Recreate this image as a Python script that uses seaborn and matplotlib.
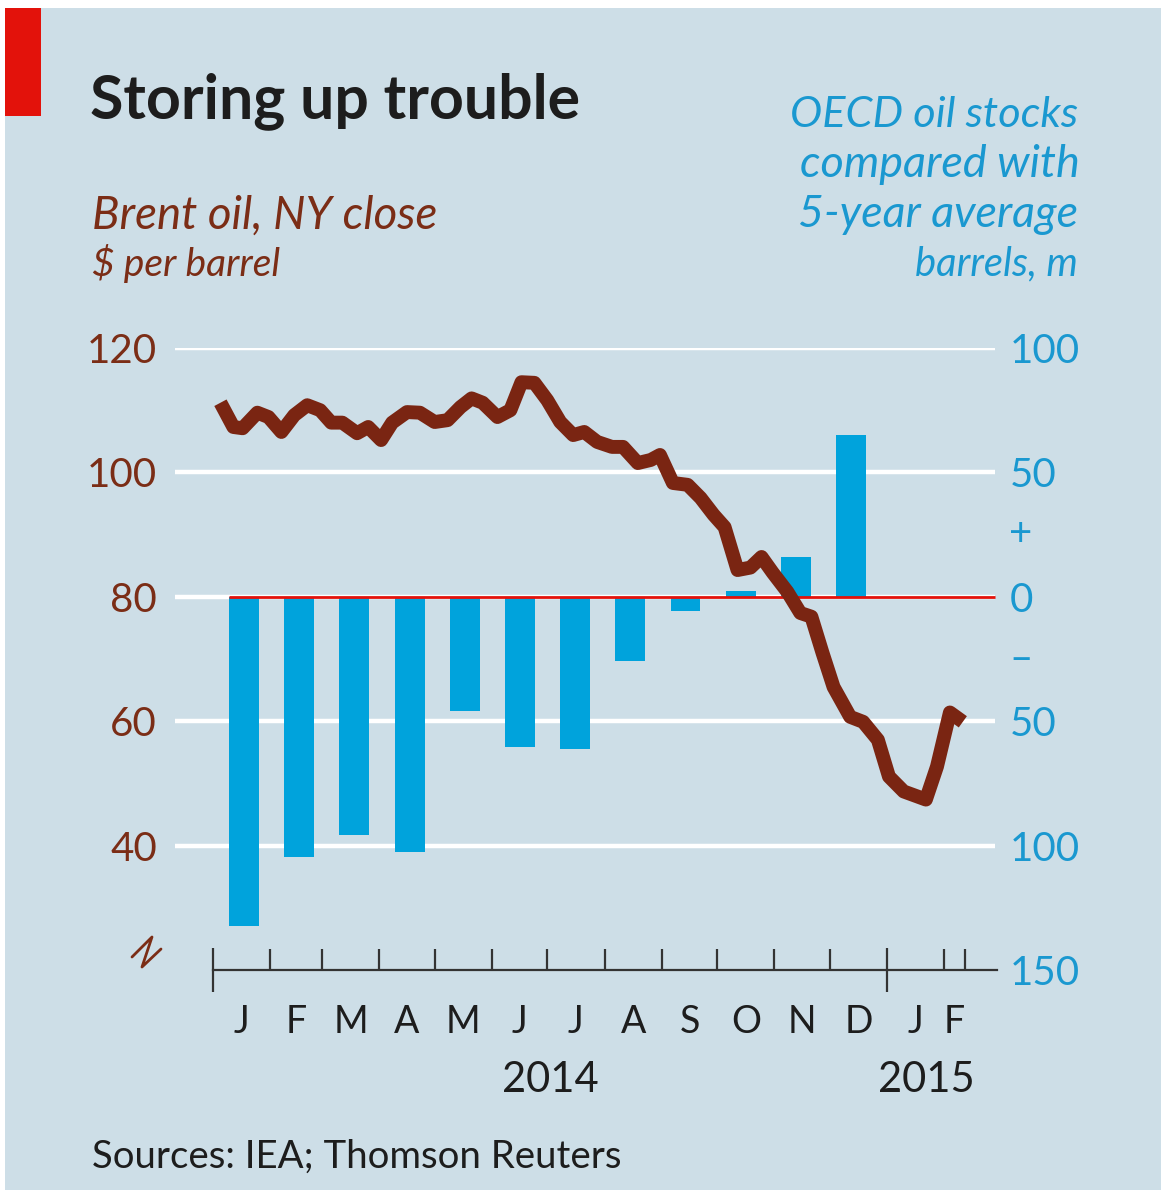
import numpy as np
import pandas as pd
import matplotlib
matplotlib.use("Agg")
import matplotlib.pyplot as plt
from matplotlib.patches import Rectangle
from matplotlib.lines import Line2D
from matplotlib.transforms import blended_transform_factory as btf
from matplotlib.ticker import FixedLocator, FuncFormatter
import seaborn as sns

# ---------------- data ----------------
# Brent weekly close, x = days since 1 Jan 2014
brent_day = [4, 11, 16, 24, 30, 37, 44, 51, 58, 64,
             70, 78, 84, 91, 97, 105, 112, 120, 127, 134,
             140, 146, 154, 161, 167, 174, 181, 188, 195, 201,
             208, 216, 222, 230, 237, 242, 249, 257, 264, 271,
             277, 284, 291, 297, 303, 311, 318, 324, 330, 336,
             345, 352, 360, 366, 374, 386, 392, 399, 406]
brent_price = [111.2, 107.3, 107.1, 109.6, 108.9, 106.5, 109.2, 110.8, 110.0, 108.0,
               108.0, 106.3, 107.3, 105.2, 108.0, 109.7, 109.6, 108.1, 108.4, 110.5,
               111.9, 111.2, 108.9, 110.0, 114.5, 114.4, 111.6, 108.1, 106.0, 106.5,
               104.9, 104.1, 104.1, 101.5, 102.0, 102.8, 98.3, 98.0, 95.9, 93.2,
               91.2, 84.3, 84.7, 86.4, 83.9, 80.8, 77.4, 76.8, 71.0, 65.5,
               60.7, 59.9, 57.0, 51.1, 48.7, 47.4, 52.7, 61.4, 59.9]

# OECD stocks vs 5-year average, barrels m, monthly 2014
stock_month = ["Jan", "Feb", "Mar", "Apr", "May", "Jun",
               "Jul", "Aug", "Sep", "Oct", "Nov", "Dec"]
stock_diff = [-132.5, -104.4, -95.6, -102.4, -45.8, -60.2,
              -61.0, -25.7, -5.6, 2.4, 16.1, 65.1]

month_letters = ["J", "F", "M", "A", "M", "J", "J", "A", "S", "O", "N", "D", "J", "F"]
month_start_day = [0, 31, 59, 90, 120, 151, 181, 212, 243, 273, 304, 334, 365, 396]
data_end_day = 407
year_labels = ["2014", "2015"]
year_start_day = [0, 365]

left_ticks = [40, 60, 80, 100, 120]
right_ticks = [-150, -100, -50, 0, 50, 100]

# ---------------- style ----------------
BG = "#cddee7"
RED = "#e3120b"
BAR = "#00a3dc"
LINE = "#7a2512"
BROWN = "#7b2d16"
BLUE = "#1a98d0"
DARK = "#1d1d1d"

sns.set_theme(style="white")
plt.rcParams["font.family"] = ["Lato", "DejaVu Sans"]

W, H = 1161, 1197
fig = plt.figure(figsize=(W / 100, H / 100), dpi=100)
fig.patch.set_facecolor("white")

def fx(px):
    return px / W

def fy(py):
    return 1 - py / H

# background panel and red tag
fig.patches.append(Rectangle((fx(5), fy(1190)), fx(1161) - fx(5), fy(8) - fy(1190),
                             transform=fig.transFigure, facecolor=BG, edgecolor="none", zorder=-10))
fig.patches.append(Rectangle((fx(5), fy(116)), fx(41) - fx(5), fy(8) - fy(116),
                             transform=fig.transFigure, facecolor=RED, edgecolor="none", zorder=-9))

# axes
ax = fig.add_axes([fx(175), fy(970), fx(997) - fx(175), fy(348) - fy(970)])
ax.set_facecolor("none")
ax2 = ax.twinx()
ax2.set_facecolor("none")

XMIN, XMAX = -20.6, 424.5
ax.set_xlim(XMIN, XMAX)
ax.set_ylim(-150, 100)
ax2.set_ylim(20, 120)

# gridlines (right scale == left scale 40..120)
ax.hlines([-100, -50, 0, 50, 100], XMIN, XMAX - 1, color="white", lw=3.2, zorder=0.5)

# bars at evenly spaced monthly slots
bar_step = 29.88
bar_pos = [16.8 + bar_step * i for i in range(len(stock_month))]
bar_w = 16.2
df_bars = pd.DataFrame({"pos": bar_pos, "diff": stock_diff, "month": stock_month})
sns.barplot(data=df_bars, x="pos", y="diff", native_scale=True, width=bar_w / bar_step,
            color=BAR, saturation=1, errorbar=None, ax=ax, zorder=2,
            linewidth=0, edgecolor="none")
ax.set_xlim(XMIN, XMAX)
ax.set_ylim(-150, 100)

# zero line
ax.hlines(0, bar_pos[0] - bar_w / 2, XMAX - 1, color=RED, lw=2.0, zorder=3)

# Brent line
df_line = pd.DataFrame({"day": brent_day, "price": brent_price})
sns.lineplot(data=df_line, x="day", y="price", color=LINE, lw=10, ax=ax2,
             solid_joinstyle="round", solid_capstyle="butt")
ax2.set_xlim(XMIN, XMAX)
ax2.set_ylim(20, 120)

# spines
for a in (ax, ax2):
    for s in a.spines.values():
        s.set_visible(False)
ax.spines["bottom"].set_visible(True)
ax.spines["bottom"].set_color("#333333")
ax.spines["bottom"].set_linewidth(1.6)
ax.spines["bottom"].set_bounds(0, XMAX)
ax.spines["bottom"].set_zorder(5)

# x ticks
ax.xaxis.set_major_locator(FixedLocator(year_start_day))
ax.xaxis.set_minor_locator(FixedLocator([d for d in month_start_day if d not in year_start_day] + [data_end_day]))
ax.tick_params(axis="x", which="major", direction="inout", length=32, width=1.6, color="#333333",
               labelbottom=False, bottom=True)
ax.tick_params(axis="x", which="minor", direction="in", length=15, width=1.6, color="#333333",
               labelbottom=False, bottom=True)
ax.set_xlabel("")
ax.set_ylabel("")
ax2.set_xlabel("")
ax2.set_ylabel("")

# y ticks
ax.yaxis.tick_right()
ax.set_yticks(right_ticks)
ax.yaxis.set_major_formatter(FuncFormatter(lambda v, p: f"{abs(int(v))}"))
ax.tick_params(axis="y", which="both", length=0, pad=9, labelsize=29, labelcolor=BLUE,
               right=False, left=False, labelright=True, labelleft=False)
ax2.yaxis.tick_left()
ax2.set_yticks(left_ticks)
ax2.tick_params(axis="y", which="both", length=0, pad=13, labelsize=29, labelcolor=BROWN,
                right=False, left=False, labelleft=True, labelright=False)

# plus / minus markers on right scale
tr_r = btf(ax.transAxes, ax.transData)
ax.text(1 + 12 / 822, 25, "+", transform=tr_r, ha="left", va="center", fontsize=29, color=BLUE)
ax.text(1 + 12 / 822, -25, "–", transform=tr_r, ha="left", va="center", fontsize=29, color=BLUE)

# month and year labels
tr_x = btf(ax.transData, ax.transAxes)
bounds = month_start_day + [data_end_day]
for i, lab in enumerate(month_letters):
    c = (bounds[i] + bounds[i + 1]) / 2
    ax.text(c, -52 / 622, lab, transform=tr_x, ha="center", va="center", fontsize=27, color=DARK)
year_ends = [365, data_end_day]
for lab, s, e in zip(year_labels, year_start_day, year_ends):
    ax.text((s + e) / 2, -110 / 622, lab, transform=tr_x, ha="center", va="center",
            fontsize=30, color=DARK)

# axis break symbol
fig.add_artist(Line2D([fx(132), fx(152), fx(142), fx(161)],
                      [fy(957), fy(937), fy(967), fy(949)],
                      transform=fig.transFigure, color=BROWN, lw=2.0))

# text
def fit(txt, target_px):
    fig.canvas.draw()
    r = fig.canvas.get_renderer()
    w = txt.get_window_extent(r).width
    txt.set_fontsize(txt.get_fontsize() * target_px / w)
    return txt.get_fontsize()

t_title = fig.text(fx(90), fy(118), "Storing up trouble", ha="left", va="baseline",
                   fontsize=40, fontweight="bold", color=DARK)
fit(t_title, 490)

t_b1 = fig.text(fx(92), fy(229), "Brent oil, NY close", ha="left", va="baseline",
                fontsize=30, style="italic", color=BROWN)
fit(t_b1, 345)
t_b2 = fig.text(fx(92), fy(276), "$ per barrel", ha="left", va="baseline",
                fontsize=24, style="italic", color=BROWN)
fit(t_b2, 188)

t_o1 = fig.text(fx(1078), fy(127), "OECD oil stocks", ha="right", va="baseline",
                fontsize=30, style="italic", color=BLUE)
fit(t_o1, 288)
t_o2 = fig.text(fx(1080), fy(177), "compared with", ha="right", va="baseline",
                fontsize=30, style="italic", color=BLUE)
fit(t_o2, 280)
t_o3 = fig.text(fx(1078), fy(227), "5-year average", ha="right", va="baseline",
                fontsize=30, style="italic", color=BLUE)
fit(t_o3, 280)
t_o4 = fig.text(fx(1078), fy(275), "barrels, m", ha="right", va="baseline",
                fontsize=24, style="italic", color=BLUE)
fit(t_o4, 163)

t_src = fig.text(fx(92), fy(1168), "Sources: IEA; Thomson Reuters", ha="left", va="baseline",
                 fontsize=26, color=DARK)
fit(t_src, 528)

fig.savefig("out.png", dpi=100, facecolor=fig.get_facecolor())
